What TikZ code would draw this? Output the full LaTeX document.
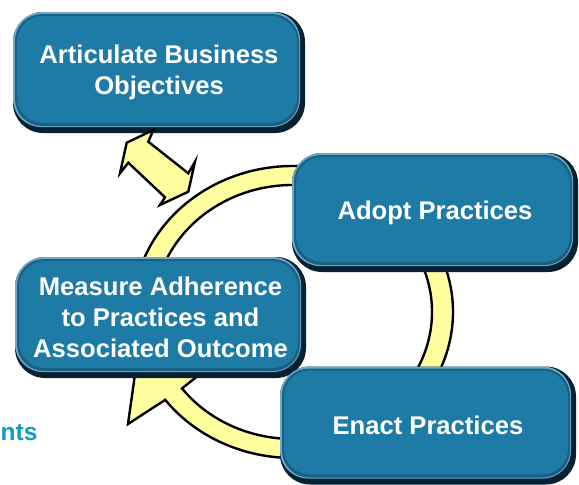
\documentclass[tikz,border=0pt]{standalone}
\usepackage{fontspec}
\setmainfont{Liberation Sans}
\usepackage{tikz}

\definecolor{boxmain}{RGB}{30,123,166}
\definecolor{boxmid}{RGB}{24,96,132}
\definecolor{boxdark}{RGB}{6,34,50}
\definecolor{boxlight}{RGB}{112,170,200}
\definecolor{ringfill}{RGB}{255,255,160}
\definecolor{notecolor}{RGB}{18,156,190}

\tikzset{
  phase/.style={rounded corners=30pt, fill=boxdark, text=white, align=center, inner sep=0pt,
    font=\bfseries\fontsize{25.6}{31}\selectfont,
    path picture={
      \fill[boxlight, rounded corners=28pt] (path picture bounding box.north west)
        rectangle ([xshift=-5pt,yshift=6pt]path picture bounding box.south east);
      \fill[boxmid, rounded corners=27pt] ([xshift=2pt,yshift=-2pt]path picture bounding box.north west)
        rectangle ([xshift=-6pt,yshift=7pt]path picture bounding box.south east);
      \fill[boxmain, rounded corners=26pt] ([xshift=4pt,yshift=-4pt]path picture bounding box.north west)
        rectangle ([xshift=-8pt,yshift=10pt]path picture bounding box.south east);
    }},
  ring/.style={fill=ringfill, draw=black, line width=2.4pt}
}

\begin{document}
\begin{tikzpicture}[x=1pt,y=-1pt]
\useasboundingbox[fill=white] (0,0) rectangle (579,485);

\node[font=\bfseries\fontsize{24.5}{30}\selectfont, text=notecolor, anchor=base west, inner sep=0pt] (note) at (0.5,440) {nts};

\node[phase, minimum width=292pt, minimum height=121pt] (articulate) at (159,72.5) {Articulate Business\\Objectives};

\draw[ring] (153.3,130) -- (126.7,142.7) -- (120,173.3) -- (128.3,162.7) -- (165,197.3) -- (160,205)
  -- (188.3,191.7) -- (195,161.7) -- (188.3,173.3) -- (148.3,141.7) -- cycle;

\draw[ring] (293,312) ++(185:160 and 146)
  arc[start angle=185, end angle=503, x radius=160, y radius=146]
  -- (128,424) -- (137,360) -- (218,360) -- (182,388.4)
  arc[start angle=503, end angle=185, x radius=139, y radius=127] -- cycle;

\node[phase, minimum width=286pt, minimum height=119pt] (adopt) at (435,212.5) {Adopt Practices};
\node[phase, minimum width=291pt, minimum height=121pt] (measure) at (160.5,317.5) {Measure Adherence\\to Practices and\\Associated Outcome};
\node[phase, minimum width=296pt, minimum height=118pt] (enact) at (428,425.5) {Enact Practices};
\end{tikzpicture}
\end{document}
